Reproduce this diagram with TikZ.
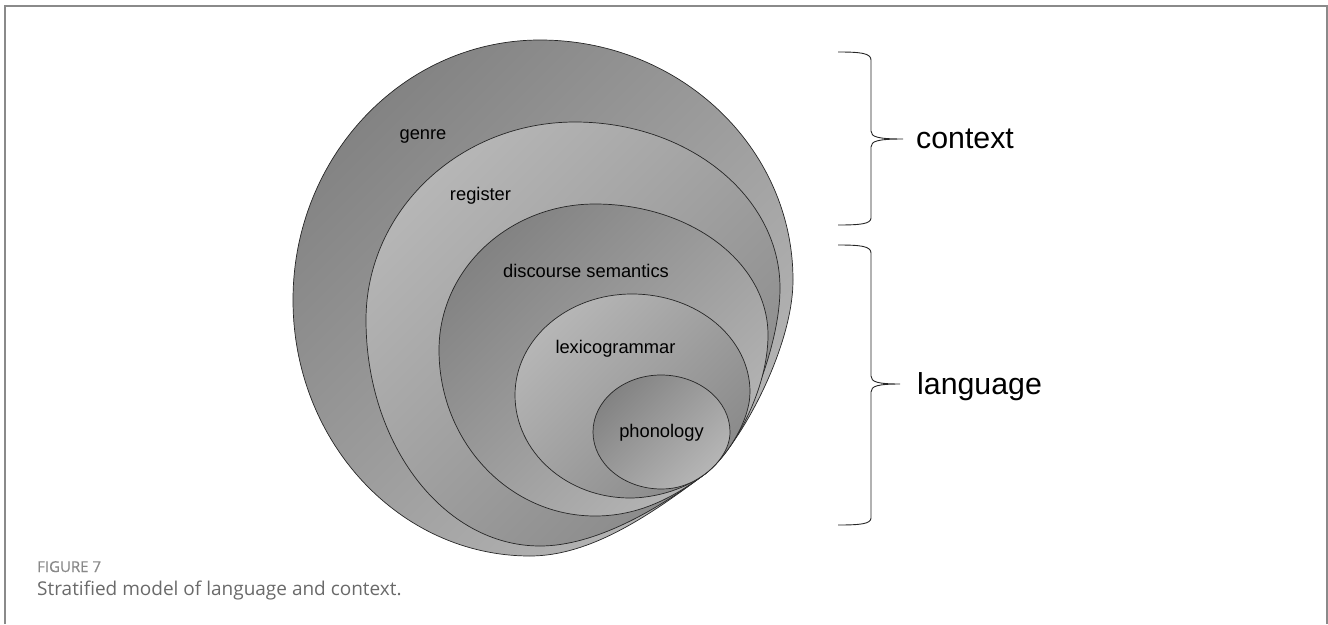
\documentclass[tikz,border=0pt]{standalone}
\usepackage{fontspec}
\setmainfont{Liberation Sans}
\newfontfamily\capfont{Open Sans}
\newfontfamily\capbold[FakeBold=0.5]{Open Sans}
\usetikzlibrary{calc}
\definecolor{framecol}{HTML}{8A8A8A}
\definecolor{capcol}{HTML}{6A6A6A}
\definecolor{figcol}{HTML}{888888}
\definecolor{dk}{HTML}{838383}
\definecolor{lt}{HTML}{B6B6B6}
\def\kq{0.5523}
\newcommand\stratum[6]{%
  \path[#1] (#2B)
    .. controls ($(#2B)!\kq!(#2L|-#2B)$) and ($(#2L)!\kq!(#2L|-#2B)$) .. (#2L)
    .. controls ($(#2L)!\kq!(#2L|-#2T)$) and ($(#2T)!\kq!(#2L|-#2T)$) .. (#2T)
    .. controls ($(#2T)!\kq!(#2R|-#2T)$) and ($(#2R)!\kq!(#2R|-#2T)$) .. (#2R)
    .. controls #3 and #4 .. (tp)
    .. controls #5 and #6 .. (#2B) -- cycle;}
\tikzset{
  stratum/.style={draw=black!85, line width=0.7pt, line join=round},
  darkfirst/.style={stratum, top color=dk, bottom color=lt, shading angle=45},
  lightfirst/.style={stratum, top color=lt, bottom color=dk!95, shading angle=45},
  lbl/.style={font=\fontsize{18.3}{20}\selectfont, anchor=base, inner sep=0pt},
  biglbl/.style={font=\fontsize{30.3}{32}\selectfont, anchor=base west, inner sep=0pt},
  bracepath/.style={draw=black!85, line width=0.9pt},
}
\begin{document}
\begin{tikzpicture}[x=1pt,y=-1pt]
\useasboundingbox (0,0) rectangle (1328,624);
% frame
\draw[framecol, line width=2pt] (4.5,624) -- (4.5,5.5) -- (1326.5,5.5) -- (1326.5,624);
% common tangency point
\coordinate (tp) at (705,474);
% extremes of each stratum
\coordinate (gL) at (293,300); \coordinate (gT) at (540,40);  \coordinate (gR) at (793,280); \coordinate (gB) at (530,556);
\coordinate (rL) at (366,320); \coordinate (rT) at (575,122); \coordinate (rR) at (780,288); \coordinate (rB) at (540,546);
\coordinate (dL) at (439,350); \coordinate (dT) at (595,204); \coordinate (dR) at (768,335); \coordinate (dB) at (595,516);
\coordinate (xL) at (515,395); \coordinate (xT) at (632,294); \coordinate (xR) at (750,392); \coordinate (xB) at (630,498);
\coordinate (pL) at (593,432); \coordinate (pT) at (661,375); \coordinate (pR) at (730,432); \coordinate (pB) at (661.5,489);
% strata
\stratum{darkfirst}{g}{(793,350)}{(737,450)}{(649,516)}{(590,556)}
\stratum{lightfirst}{r}{(780,353)}{(737,450)}{(657,510)}{(595,546)}
\stratum{darkfirst}{d}{(768,390)}{(733,453)}{(669,501)}{(635,516)}
\stratum{lightfirst}{x}{(750,422)}{(725,459)}{(681,492)}{(650,498)}
\stratum{darkfirst}{p}{(730,450)}{(717,465)}{(690.6,484.8)}{(676.5,489)}
% labels
\node[lbl] (tgenre) at (423,139) {genre};
\node[lbl] (tregister) at (480.5,200) {register};
\node[lbl] (tdiscourse) at (586,277) {discourse semantics};
\node[lbl] (tlexico) at (615.5,353) {lexicogrammar};
\node[lbl] (tphono) at (661.5,437) {phonology};
% braces
\coordinate (ctip) at (903,139);
\coordinate (ltip) at (900,384);
\draw[bracepath] (838,52) .. controls (860,52) and (871,53) .. (871,60) -- (871,131)
  .. controls (871,137) and (878,139) .. (ctip)
  .. controls (878,139) and (871,141) .. (871,147) -- (871,218)
  .. controls (871,224) and (860,225) .. (838,225);
\draw[bracepath] (838,245) .. controls (860,245) and (871,246) .. (871,253) -- (871,376)
  .. controls (871,382) and (878,384) .. (ltip)
  .. controls (878,384) and (871,386) .. (871,392) -- (871,518)
  .. controls (871,524) and (860,525) .. (838,525);
\node[biglbl] (context) at (916,148) {context};
\node[biglbl] (language) at (917,394) {language};
% caption
\node[font=\capbold\fontsize{15}{17}\selectfont, text=figcol, anchor=base west, inner sep=0pt] (fig) at (37,572) {FIGURE 7};
\node[font=\capfont\fontsize{19}{21}\selectfont, text=capcol, anchor=base west, inner sep=0pt] (cap) at (37,595) {Stratified model of language and context.};
\end{tikzpicture}
\end{document}
